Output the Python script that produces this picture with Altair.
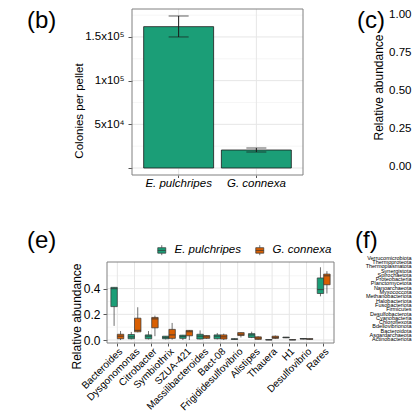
import altair as alt
import pandas as pd

FONT = "Liberation Sans"
GREEN = "#1B9E77"
ORANGE = "#D95F02"
FRAME = "#808080"
TICK = "#555555"
GRID_MAJOR = "#e6e6e6"
GRID_MINOR = "#f2f2f2"
BOXLINE = "#333333"
INK = "#1a1a1a"

# ---------- panel (b) ----------
b_species = ["E. pulchripes", "G. connexa"]
b_colonies = [161800, 20600]
b_err_low = [150000, 18300]
b_err_high = [174000, 22900]
b_major_ticks = [0, 50000, 100000, 150000]
b_major_labels = ["", "5x10⁴", "1x10⁵", "1.5x10⁵"]
b_minor_ticks = [25000, 75000, 125000, 175000]

# ---------- panel (c) ----------
c_ticks = [0.0, 0.25, 0.5, 0.75, 1.0]

# ---------- panel (e) ----------
e_taxa = ["Bacteroides", "Dysgonomonas", "Citrobacter", "Symbiothrix", "SZUA-421",
          "Massilibacteroides", "Bact-08", "Frigididesulfovibrio", "Alistipes",
          "Thauera", "H1", "Desulfovibrio", "Rares"]
e_groups = ["E. pulchripes", "G. connexa"]
ep_min = [0.110, 0.005, 0.005, 0.005, 0.000, 0.005, 0.005, 0.003, 0.015, 0.000, 0.015, 0.005, 0.340]
ep_q1  = [0.260, 0.010, 0.010, 0.010, 0.013, 0.008, 0.010, 0.005, 0.020, 0.001, 0.018, 0.008, 0.362]
ep_med = [0.400, 0.025, 0.030, 0.020, 0.028, 0.030, 0.030, 0.007, 0.040, 0.002, 0.020, 0.010, 0.393]
ep_q3  = [0.410, 0.043, 0.040, 0.030, 0.038, 0.045, 0.040, 0.010, 0.050, 0.003, 0.022, 0.012, 0.483]
ep_max = [0.410, 0.063, 0.070, 0.030, 0.040, 0.075, 0.055, 0.012, 0.065, 0.004, 0.024, 0.014, 0.566]
gc_min = [0.000, 0.060, 0.030, 0.003, 0.000, 0.010, 0.000, 0.020, 0.002, 0.010, 0.000, 0.004, 0.362]
gc_q1  = [0.010, 0.064, 0.095, 0.013, 0.033, 0.013, 0.008, 0.035, 0.005, 0.013, 0.001, 0.006, 0.430]
gc_med = [0.030, 0.075, 0.165, 0.040, 0.065, 0.025, 0.025, 0.045, 0.015, 0.020, 0.002, 0.008, 0.500]
gc_q3  = [0.045, 0.170, 0.176, 0.083, 0.075, 0.035, 0.040, 0.058, 0.025, 0.030, 0.003, 0.010, 0.513]
gc_max = [0.070, 0.255, 0.190, 0.133, 0.078, 0.035, 0.050, 0.060, 0.030, 0.035, 0.004, 0.012, 0.536]
e_major_ticks = [0.0, 0.2, 0.4]
e_minor_ticks = [0.1, 0.3, 0.5]

# ---------- panel (f) ----------
f_phyla = ["Verrucomicrobiota", "Thermoproteota", "Thermoplasmatota", "Synergistota",
           "Spirochaetota", "Proteobacteria", "Planctomycetota", "Nanoarchaeota",
           "Myxococcota", "Methanobacteriota", "Halobacteriota", "Fusobacteriota",
           "Firmicutes", "Desulfobacterota", "Cyanobacteria", "Chloroflexota",
           "Bdellovibrionota", "Bacteroidota", "Asgardarchaeota", "Actinobacteriota"]

# ---------- canvas / panel placement (pixels inside the drawing) ----------
W, H = 404, 404
B_X0, B_X1, B_Y0, B_Y1 = 124, 295, 1, 167        # panel (b) plot box
C_AX = 408.5                                      # panel (c) axis line
E_X0, E_X1, E_Y0, E_Y1 = 99, 326, 254, 335        # panel (e) plot box
F_AX, F_Y0, F_Y1 = 405, 247, 333                  # panel (f) label column


def js_list(vals):
    return "[" + ",".join(str(v) for v in vals) + "]"


def text_label(text, x, y, size=24):
    return alt.Chart(pd.DataFrame({"lab": [text]})).mark_text(
        fontSize=size, align="left", baseline="top", color="black", font=FONT
    ).encode(text="lab:N", x=alt.value(x), y=alt.value(y))


def frame(x0, x1, y0, y1):
    return alt.Chart(pd.DataFrame({"f": [0]})).mark_rect(
        fillOpacity=0, stroke=FRAME, strokeWidth=1
    ).encode(x=alt.value(x0), x2=alt.value(x1), y=alt.value(y0), y2=alt.value(y1))


def hgrid(values, scale, x0, x1, color, width):
    return alt.Chart(pd.DataFrame({"v": values})).mark_rule(color=color, strokeWidth=width).encode(
        y=alt.Y("v:Q", scale=scale, axis=None), x=alt.value(x0), x2=alt.value(x1))


def vgrid(cats, scale, y0, y1):
    return alt.Chart(pd.DataFrame({"c": cats})).mark_rule(color=GRID_MAJOR, strokeWidth=1).encode(
        x=alt.X("c:N", scale=scale, axis=None), y=alt.value(y0), y2=alt.value(y1))


# ======== (b) ========
dfb = pd.DataFrame({"species": b_species, "colonies": b_colonies,
                    "lo": b_err_low, "hi": b_err_high})
is_major_b = f"indexof({js_list(b_major_ticks)}, datum.value) >= 0"
b_label_expr = "".join(f"datum.value == {v} ? '{l}' : " for v, l in zip(b_major_ticks, b_major_labels)) + "''"
b_xs = alt.Scale(domain=b_species, range=[B_X0, B_X1], paddingInner=0.1, paddingOuter=0.15)
b_ys = alt.Scale(domain=[-8000, 182000], range=[B_Y1, B_Y0], nice=False, zero=False)
b_xaxis = alt.Axis(orient="bottom", offset=B_Y1 - H, title=None, labelAngle=0,
                   labelFontStyle="italic", labelFontSize=11.5, tickSize=2.5, labelPadding=0,
                   grid=False, domain=False)
b_yaxis = alt.Axis(orient="left", offset=-B_X0, values=sorted(b_major_ticks + b_minor_ticks),
                   labelExpr=b_label_expr, title="Colonies per pellet", titleFontSize=11.5,
                   titleX=-48, titleY=102.5, titleAngle=270, titleAlign="center",
                   titleBaseline="bottom", labelFontSize=11.5, tickSize=4, labelPadding=4,
                   grid=False, domain=False,
                   tickOpacity={"condition": {"test": is_major_b, "value": 1}, "value": 0})
b_layers = [
    hgrid(b_minor_ticks, b_ys, B_X0, B_X1, GRID_MINOR, 0.7),
    hgrid(b_major_ticks, b_ys, B_X0, B_X1, GRID_MAJOR, 1),
    vgrid(b_species, b_xs, B_Y0, B_Y1),
    alt.Chart(dfb).mark_bar(fill=GREEN, stroke=INK, strokeWidth=0.8).encode(
        x=alt.X("species:N", scale=b_xs, axis=b_xaxis),
        y=alt.Y("colonies:Q", scale=b_ys, axis=b_yaxis), y2=alt.datum(0)),
    alt.Chart(dfb).mark_rule(color=INK, strokeWidth=1).encode(
        x=alt.X("species:N", scale=b_xs, axis=None),
        y=alt.Y("lo:Q", scale=b_ys, axis=None), y2="hi:Q"),
    alt.Chart(dfb).mark_tick(color=INK, thickness=1, size=20).encode(
        x=alt.X("species:N", scale=b_xs, axis=None),
        y=alt.Y("lo:Q", scale=b_ys, axis=None)),
    alt.Chart(dfb).mark_tick(color=INK, thickness=1, size=20).encode(
        x=alt.X("species:N", scale=b_xs, axis=None),
        y=alt.Y("hi:Q", scale=b_ys, axis=None)),
    frame(B_X0, B_X1, B_Y0, B_Y1),
    text_label("(b)", 19, 1),
]

# ======== (c) ========
dfc = pd.DataFrame({"v": c_ticks})
c_layers = [
    alt.Chart(dfc).mark_point(opacity=0).encode(
        y=alt.Y("v:Q", scale=alt.Scale(domain=[-0.053, 1.039], range=[B_Y1, B_Y0], nice=False, zero=False),
                axis=alt.Axis(orient="left", offset=-C_AX, values=c_ticks, format=".2f",
                              title="Relative abundance", titleFontSize=12, titleX=-31.5, titleY=79,
                              titleAngle=270, titleAlign="center", titleBaseline="bottom",
                              labelFontSize=11.5, tickSize=3, labelPadding=2.5, grid=False,
                              domain=False)),
        x=alt.value(W + 20)),
    text_label("(c)", 349, 1),
]

# ======== (e) ========
rows = []
for i, t in enumerate(e_taxa):
    rows.append(dict(taxon=t, group=e_groups[0], lo=ep_min[i], q1=ep_q1[i], med=ep_med[i], q3=ep_q3[i], hi=ep_max[i]))
    rows.append(dict(taxon=t, group=e_groups[1], lo=gc_min[i], q1=gc_q1[i], med=gc_med[i], q3=gc_q3[i], hi=gc_max[i]))
dfe = pd.DataFrame(rows)
is_major_e = f"indexof({js_list(e_major_ticks)}, datum.value) >= 0"
e_xs = alt.Scale(domain=e_taxa, range=[E_X0, E_X1], paddingInner=0.25, paddingOuter=0.225)
e_ys = alt.Scale(domain=[-0.023, 0.607], range=[E_Y1, E_Y0], nice=False, zero=False)
e_xos = alt.Scale(domain=e_groups, paddingInner=0, paddingOuter=0)
e_xaxis = alt.Axis(orient="bottom", offset=E_Y1 - H, title=None, labelAngle=315,
                   labelAlign="right", labelBaseline="top", labelFontSize=10, tickSize=3,
                   labelPadding=0, grid=False, domain=False)
e_yaxis = alt.Axis(orient="left", offset=-E_X0, values=sorted(e_major_ticks + e_minor_ticks),
                   labelExpr=f"{is_major_e} ? format(datum.value, '.1f') : ''",
                   title="Relative abundance", titleFontSize=12, titleX=-24, titleY=308,
                   titleAngle=270, titleAlign="center", titleBaseline="bottom",
                   labelFontSize=12, tickSize=4, labelPadding=3, grid=False, domain=False,
                   tickOpacity={"condition": {"test": is_major_e, "value": 1}, "value": 0})
BOX_PATH = "M-0.8,-0.5H0.8V0.6H-0.8Z M-0.8,0.05H0.8 M0,-0.5V-1 M0,0.6V1"
e_color = alt.Color("group:N", scale=alt.Scale(domain=e_groups, range=[GREEN, ORANGE]),
                    legend=alt.Legend(title=None, orient="none", legendX=148, legendY=236,
                                      direction="horizontal", symbolType=BOX_PATH, symbolSize=100,
                                      symbolStrokeColor=BOXLINE, symbolStrokeWidth=0.7,
                                      labelFontStyle="italic", labelFontSize=11.5, labelOffset=7,
                                      columnPadding=13, padding=0, labelColor="black"))
e_layers = [
    hgrid(e_minor_ticks, e_ys, E_X0, E_X1, GRID_MINOR, 0.7),
    hgrid(e_major_ticks, e_ys, E_X0, E_X1, GRID_MAJOR, 1),
    vgrid(e_taxa, e_xs, E_Y0, E_Y1),
    alt.Chart(dfe).mark_rule(color=BOXLINE, strokeWidth=0.7).encode(
        x=alt.X("taxon:N", scale=e_xs, axis=None), xOffset=alt.XOffset("group:N", scale=e_xos),
        y=alt.Y("lo:Q", scale=e_ys, axis=None), y2="hi:Q"),
    alt.Chart(dfe).mark_bar(stroke=BOXLINE, strokeWidth=0.7).encode(
        x=alt.X("taxon:N", scale=e_xs, axis=e_xaxis), xOffset=alt.XOffset("group:N", scale=e_xos),
        y=alt.Y("q1:Q", scale=e_ys, axis=e_yaxis), y2="q3:Q", color=e_color),
    alt.Chart(dfe).mark_tick(color=BOXLINE, thickness=1.2, size=6.4).encode(
        x=alt.X("taxon:N", scale=e_xs, axis=None), xOffset=alt.XOffset("group:N", scale=e_xos),
        y=alt.Y("med:Q", scale=e_ys, axis=None)),
    frame(E_X0, E_X1, E_Y0, E_Y1),
    text_label("(e)", 19, 221),
]

# ======== (f) ========
dff = pd.DataFrame({"phylum": f_phyla})
f_layers = [
    alt.Chart(dff).mark_point(opacity=0).encode(
        y=alt.Y("phylum:N", scale=alt.Scale(domain=f_phyla, range=[F_Y0, F_Y1], paddingInner=0, paddingOuter=0.1),
                axis=alt.Axis(orient="left", offset=-F_AX, title=None, ticks=False, domain=False,
                              labelFontSize=5.5, labelPadding=2, labelLimit=0, labelOverlap=False,
                              grid=False)),
        x=alt.value(W + 20)),
    text_label("(f)", 347, 221),
]

chart = alt.layer(*(b_layers + c_layers + e_layers + f_layers)).resolve_scale(
    x="independent", y="independent", color="independent", xOffset="independent"
).properties(
    width=W, height=H, autosize=alt.AutoSizeParams(type="none"), padding=0, background="white"
).configure_view(stroke="transparent").configure_axis(
    labelFont=FONT, titleFont=FONT, labelColor="black", titleColor="black",
    titleFontWeight="normal", tickColor=TICK
).configure_legend(labelFont=FONT)

chart.save("out.html", embed_options={"renderer": "svg", "actions": False})
